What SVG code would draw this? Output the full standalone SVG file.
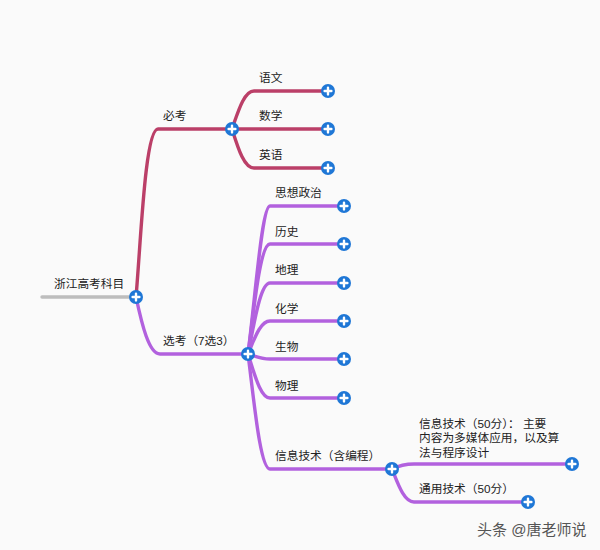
<svg xmlns="http://www.w3.org/2000/svg" width="600" height="550" viewBox="0 0 600 550">
<style>
text{font-family:"Liberation Sans","Noto Sans CJK SC",sans-serif;font-size:11.7px;fill:#222}
.c{fill:none;stroke-width:3.4;stroke-linecap:round}
.r{stroke:#bb3f68}.p{stroke:#b261de}.g{stroke:#bdbdbd}
text.wm{font-size:15px;fill:#555}
</style>
<defs>
<g id="plus"><circle r="7" fill="#1f77d6"/><path d="M-3.4 0H3.4M0-3.4V3.4" stroke="#fff" stroke-width="2.4" stroke-linecap="round"/></g>
</defs>
<rect width="600" height="550" fill="#fafafa"/>
<g id="connectors">
<path class="c g" d="M42 297H136"/>
<path class="c r" d="M136 297C141 240 145 129 158 129H232"/>
<path class="c r" d="M232 129C238 112 244 91 254 91H328"/>
<path class="c r" d="M232 129H328"/>
<path class="c r" d="M232 129C238 148 244 168 254 168H328"/>
<path class="c p" d="M136 297C142 325 149 354 160 354H248"/>
<path class="c p" d="M248 354C256 290 262 206 270 206H344"/>
<path class="c p" d="M248 354C254 310 260 244 270 244H344"/>
<path class="c p" d="M248 354C254 325 260 283 270 283H344"/>
<path class="c p" d="M248 354C254 340 260 321 270 321H344"/>
<path class="c p" d="M248 354C255 356 260 359 270 359H344"/>
<path class="c p" d="M248 354C254 372 260 398 270 398H344"/>
<path class="c p" d="M248 354C254 400 260 469 270 469H392"/>
<path class="c p" d="M392 469C398 466 404 464 414 464H572"/>
<path class="c p" d="M392 469C398 484 404 502 414 502H528"/>
</g>
<g id="root"><text x="54" y="288">浙江高考科目</text><use href="#plus" x="136" y="297"/></g>
<g id="bikao"><text x="163" y="120">必考</text><use href="#plus" x="232" y="129"/></g>
<g id="yuwen"><text x="259" y="81.500">语文</text><use href="#plus" x="328" y="91"/></g>
<g id="shuxue"><text x="259" y="120">数学</text><use href="#plus" x="328" y="129"/></g>
<g id="yingyu"><text x="259" y="159">英语</text><use href="#plus" x="328" y="168"/></g>
<g id="xuankao"><text x="163" y="345">选考（7选3）</text><use href="#plus" x="248" y="354"/></g>
<g id="zhengzhi"><text x="275" y="197">思想政治</text><use href="#plus" x="344" y="206"/></g>
<g id="lishi"><text x="275" y="235.500">历史</text><use href="#plus" x="344" y="244"/></g>
<g id="dili"><text x="275" y="274">地理</text><use href="#plus" x="344" y="283"/></g>
<g id="huaxue"><text x="275" y="312.500">化学</text><use href="#plus" x="344" y="321"/></g>
<g id="shengwu"><text x="275" y="351">生物</text><use href="#plus" x="344" y="359"/></g>
<g id="wuli"><text x="275" y="389.500">物理</text><use href="#plus" x="344" y="398"/></g>
<g id="jishu"><text x="275" y="460">信息技术（含编程）</text><use href="#plus" x="392" y="469"/></g>
<g id="xinxi"><text x="419" y="427.500"><tspan x="419">信息技术（50分）： 主要</tspan><tspan x="419" dy="14.500">内容为多媒体应用，以及算</tspan><tspan x="419" dy="14.500">法与程序设计</tspan></text><use href="#plus" x="572" y="464"/></g>
<g id="tongyong"><text x="419" y="493">通用技术（50分）</text><use href="#plus" x="528" y="502"/></g>
<text class="wm" x="477" y="535">头条 @唐老师说</text>
</svg>
